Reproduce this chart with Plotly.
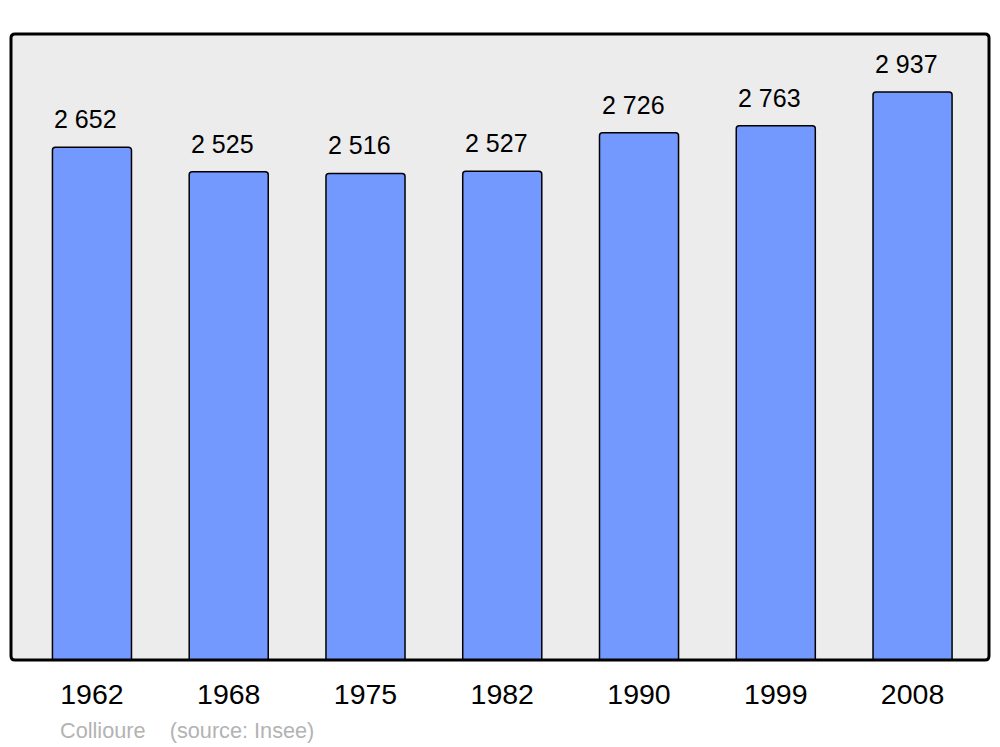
import plotly.graph_objects as go

years = ["1962", "1968", "1975", "1982", "1990", "1999", "2008"]
population = [2652, 2525, 2516, 2527, 2726, 2763, 2937]
footer_text = "Collioure    (source: Insee)"

# page body has an 8px default margin; compensate so the frame lands where intended
OFF = 8
W, H = 1000 - OFF, 747 - OFF
plot_left, plot_top, plot_right, plot_bottom = 11, 34, 989, 660
ml, mt = plot_left - OFF, plot_top - OFF
pw, ph = plot_right - plot_left, plot_bottom - plot_top
mr, mb = W - ml - pw, H - mt - ph

xs = list(range(len(years)))
labels = [f"{v:,}".replace(",", " ") for v in population]
FONT = "Liberation Sans, Arial, sans-serif"

fig = go.Figure()
fig.add_trace(go.Bar(
    x=xs, y=population, width=0.578,
    marker=dict(color="#7399ff", line=dict(color="#000000", width=1.5), cornerradius=3),
    hoverinfo="skip",
))

for x, v, t in zip(xs, population, labels):
    fig.add_annotation(x=x, y=v, text=t, showarrow=False, yanchor="bottom",
                       yshift=12, xshift=-6,
                       font=dict(size=25, color="#000000", family=FONT))

# rounded plot frame
rx, ry = 4 / pw, 4 / ph
path = (f"M {rx},0 L {1-rx},0 Q 1,0 1,{ry} L 1,{1-ry} Q 1,1 {1-rx},1 "
        f"L {rx},1 Q 0,1 0,{1-ry} L 0,{ry} Q 0,0 {rx},0 Z")
fig.add_shape(type="path", path=path, xref="paper", yref="paper",
              fillcolor="#ececec", line=dict(width=0), layer="below")
fig.add_shape(type="path", path=path, xref="paper", yref="paper",
              fillcolor="rgba(0,0,0,0)", line=dict(color="#000000", width=3), layer="above")

fig.add_annotation(x=(58 - plot_left) / pw, y=(plot_bottom - 730) / ph,
                   xref="paper", yref="paper", text=footer_text,
                   showarrow=False, xanchor="left", yanchor="middle",
                   font=dict(size=21.7, color="#b3b3b3", family=FONT))

fig.update_layout(
    width=W, height=H,
    margin=dict(l=ml, r=mr, t=mt, b=mb, pad=0),
    paper_bgcolor="#ffffff", plot_bgcolor="rgba(0,0,0,0)",
    showlegend=False,
    font=dict(family=FONT, color="#000000"),
    xaxis=dict(range=[-0.592, 6.559], tickmode="array", tickvals=xs, ticktext=years,
               showgrid=False, zeroline=False, showline=False, ticks="",
               tickfont=dict(size=28.5), ticklabelstandoff=14, fixedrange=True),
    yaxis=dict(range=[0, 3237], showgrid=False, zeroline=False, showline=False,
               showticklabels=False, ticks="", fixedrange=True),
)

fig.write_html("out.html")
